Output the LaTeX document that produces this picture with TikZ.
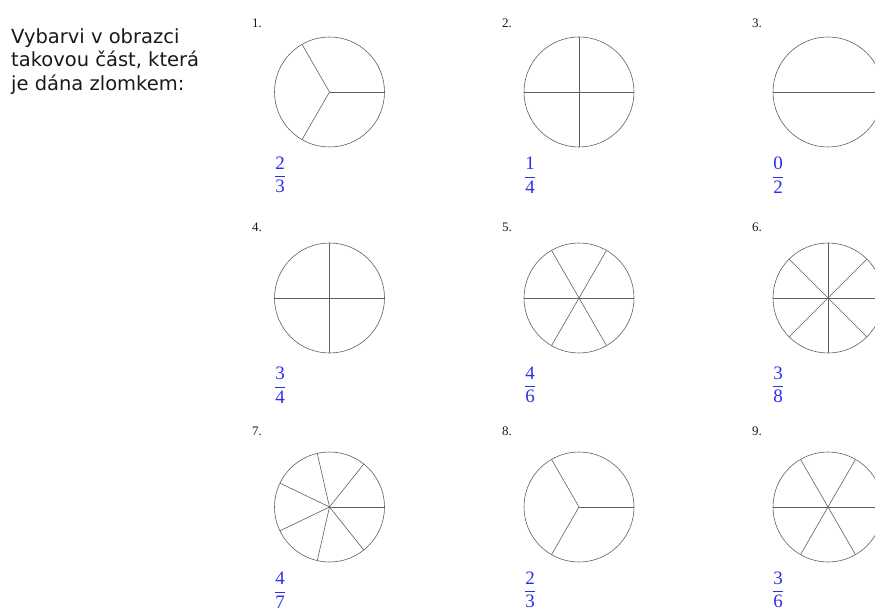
\documentclass[tikz,border=0pt]{standalone}
\usepackage{amsmath}
\usepackage{fontspec}
\setmainfont{Liberation Serif}
\newfontfamily\pokynfont{DejaVu Sans}
\usetikzlibrary{positioning}
\definecolor{zlomekblue}{RGB}{45,45,235}
\definecolor{linegray}{RGB}{95,95,95}
\newcommand{\zlomek}[2]{$\dfrac{\text{#1}}{\text{#2}}$}

\begin{document}
\begin{tikzpicture}[
  x=1pt, y=-1pt,
  kruh/.style={draw=linegray, line width=0.6pt, circle, minimum size=110pt, inner sep=0pt, outer sep=0pt},
  spoke/.style={draw=linegray, line width=0.6pt},
  cislo/.style={anchor=west, inner sep=0pt, font=\fontsize{13}{15}\selectfont, text=black!90},
  frac/.style={inner sep=0pt, text=zlomekblue, font=\fontsize{19}{22}\selectfont},
  pokyn/.style={anchor=north west, inner sep=0pt, align=left, text=black!90,
    font=\pokynfont\fontsize{19.5}{23.5}\selectfont}
]
\clip (0,0) rectangle (875,609);

% === INSTRUCTION ===
\node[pokyn] (instr) at (11,28) {Vybarvi v obrazci\\takovou část, která\\je dána zlomkem:};

% === ROW 1 ===
\node[cislo] (n1) at (252,23) {1.};
\node[kruh] (c1) at (329.5,92) {};
\foreach \a in {0,120,240} \draw[spoke] (c1.center) -- +(\a:55pt);
\node[frac] (f1) at (280,175) {\zlomek{2}{3}};

\node[cislo] (n2) at (502,23) {2.};
\node[kruh] (c2) at (579,92) {};
\foreach \a in {0,90,180,270} \draw[spoke] (c2.center) -- +(\a:55pt);
\node[frac] (f2) at (530,175) {\zlomek{1}{4}};

\node[cislo] (n3) at (752,23) {3.};
\node[kruh] (c3) at (828,92) {};
\draw[spoke] (c3.west) -- (c3.east);
\node[frac] (f3) at (778,175) {\zlomek{0}{2}};

% === ROW 2 ===
\node[cislo] (n4) at (252,227) {4.};
\node[kruh] (c4) at (329.5,298) {};
\foreach \a in {0,90,180,270} \draw[spoke] (c4.center) -- +(\a:55pt);
\node[frac] (f4) at (280,385) {\zlomek{3}{4}};

\node[cislo] (n5) at (502,227) {5.};
\node[kruh] (c5) at (579,298) {};
\foreach \a in {0,60,...,300} \draw[spoke] (c5.center) -- +(\a:55pt);
\node[frac] (f5) at (530,385) {\zlomek{4}{6}};

\node[cislo] (n6) at (752,227) {6.};
\node[kruh] (c6) at (828,298) {};
\foreach \a in {0,45,...,315} \draw[spoke] (c6.center) -- +(\a:55pt);
\node[frac] (f6) at (778,385) {\zlomek{3}{8}};

% === ROW 3 ===
\node[cislo] (n7) at (252,431) {7.};
\node[kruh] (c7) at (329.5,507) {};
\foreach \k in {0,...,6} \draw[spoke] (c7.center) -- +({\k*360/7}:55pt);
\node[frac] (f7) at (280,590) {\zlomek{4}{7}};

\node[cislo] (n8) at (502,431) {8.};
\node[kruh] (c8) at (579,507) {};
\foreach \a in {0,120,240} \draw[spoke] (c8.center) -- +(\a:55pt);
\node[frac] (f8) at (530,590) {\zlomek{2}{3}};

\node[cislo] (n9) at (752,431) {9.};
\node[kruh] (c9) at (828,507) {};
\foreach \a in {0,60,...,300} \draw[spoke] (c9.center) -- +(\a:55pt);
\node[frac] (f9) at (778,590) {\zlomek{3}{6}};

\end{tikzpicture}
\end{document}
